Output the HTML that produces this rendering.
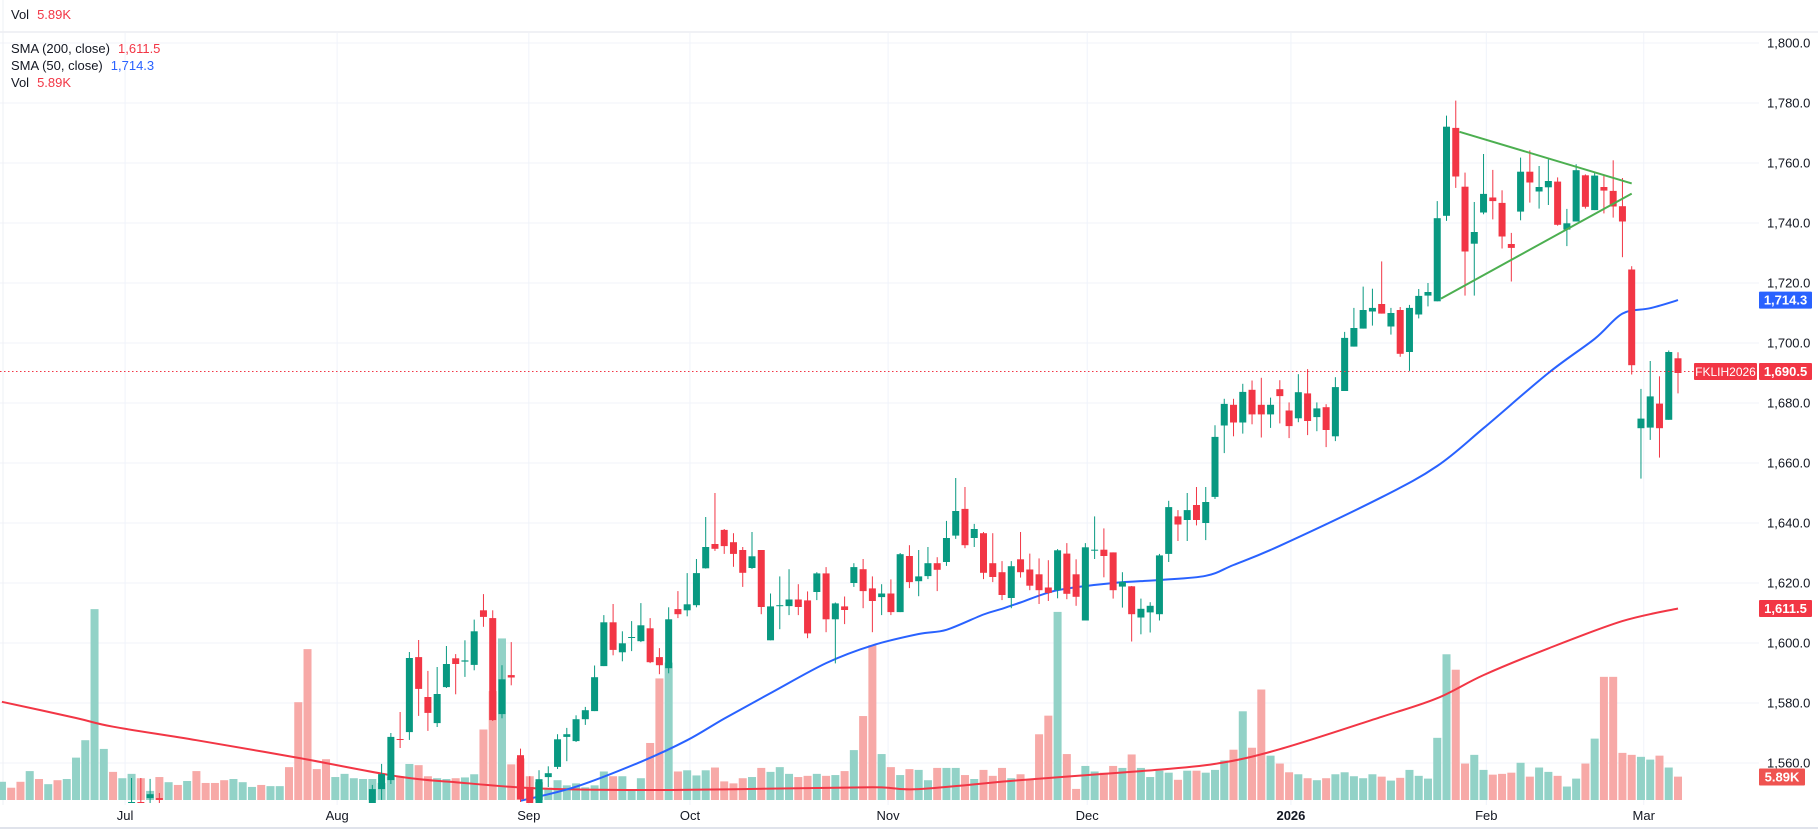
<!DOCTYPE html>
<html><head><meta charset="utf-8"><style>
html,body{margin:0;padding:0;background:#fff;}
svg{display:block;font-family:"Liberation Sans",sans-serif;}
</style></head><body>
<svg id="chart" width="1818" height="830" viewBox="0 0 1818 830" xmlns="http://www.w3.org/2000/svg">
<defs><clipPath id="plotClip"><rect x="0" y="33" width="1757" height="770"/></clipPath></defs>
<rect x="0" y="0" width="1818" height="830" fill="#ffffff"/>
<g id="grid"></g>
<line x1="0" y1="32" x2="1818" y2="32" stroke="#e0e3eb" stroke-width="1"/>
<line x1="3" y1="0" x2="3" y2="805" stroke="#eef0f4" stroke-width="1"/>
<line x1="0" y1="828" x2="1818" y2="828" stroke="#e0e3eb" stroke-width="2"/>
<g clip-path="url(#plotClip)">
<g id="volume"></g>
<g id="smas"></g>
<g id="candles"></g>
<g id="trend"></g>
</g>
<g id="lastline"></g>
<g id="yaxis"></g>
<g id="xaxis"></g>
<g id="badges"></g>
<g font-size="13">
<text x="11" y="19" fill="#131722">Vol<tspan dx="8" fill="#f23645">5.89K</tspan></text>
<text x="11" y="53" fill="#131722">SMA (200, close)<tspan dx="8" fill="#f23645">1,611.5</tspan></text>
<text x="11" y="70" fill="#131722">SMA (50, close)<tspan dx="8" fill="#2962ff">1,714.3</tspan></text>
<text x="11" y="87" fill="#131722">Vol<tspan dx="8" fill="#f23645">5.89K</tspan></text>
</g>
</svg>
<script>
const opens=[1538,1541,1539,1537,1542,1539,1541,1538,1541,1540,1538,1540,1542,1539,1545,1547,1548.3,1548.3,1540,1542,1539,1541,1538,1536,1534,1532,1535,1537,1539,1536,1538,1540,1537,1533,1529,1528,1526,1530,1533,1536,
1539,1551.3,1554.3,1568,1570.3,1595.3,1582,1573.3,1585.3,1594.9,1593.8,1592.7,1610.9,1608.3,1576.3,1589.3,1562.6,1552,1545,1555.3,1558.7,1568.7,1567.3,1574.6,1577.3,1592.3,1606.9,1596.9,1601.8,1600.6,1604.9,1595.3,1591.6,1611.3,1610.9,1612.6,1624.9,1633,1637.7,
1633.6,1631,1625,1631,1600.9,1612.4,1612.3,1614.5,1614.2,1617,1623.2,1607.9,1612.2,1620,1624.6,1618.2,1615.3,1616.5,1610.3,1629,1620.6,1622.3,1626.6,1627,1635.8,1644.7,1635,1636.6,1626.6,1623.6,1615,1627.9,
1624.5,1622.9,1618.5,1617.6,1629.8,1622.9,1607.5,1630.8,1631.1,1630.2,1618.8,1618.9,1608.5,1610.2,1609.6,1629.7,1642.2,1641,1646,1640,1648.7,1672.5,1679.4,1673.5,1684.4,1679.4,1676.2,1684.6,
1677.5,1674.9,1683.2,1675.3,1678.6,1668.9,1684,1698.8,1704.8,1710.5,1713,1705.5,1711,1697,1709.5,1715.8,1713.9,1742.4,1771.7,
1752.1,1733.1,1743.5,1748.5,1746.7,1733,1743.8,1757.1,1750.5,1751.9,1753.8,1737.8,1740.5,1755.9,1744.3,1752,1750.7,1745.6,1724.5,1671.6,1671.8,1679.8,1674.4,1694.9];
const highs=[1543,1543,1542,1544,1544,1543,1543,1543,1545,1545,1545,1545,1545,1545,1555,1555,1554.7,1550,1544,1544,1543,1544,1541,1539,1537,1537,1539,1540,1541,1540,1542,1543,1540,1536,1533,1532,1532,1535,1538,1541,
1552.7,1559.7,1570,1577,1597,1601,1590.7,1592,1599,1596.3,1600.9,1607.8,1616.3,1610.9,1592.6,1600.3,1564.8,1555.6,1557.6,1558.9,1569.6,1571.7,1575.9,1578.7,1592.5,1609.3,1613,1603.9,1607.3,1613.3,1608.3,1598.3,1611.9,1617.3,1623.3,1628,1642,1650,1638,
1636.6,1632,1637,1631,1616.5,1622.2,1624.6,1619.6,1617.2,1623.6,1625.3,1613.5,1615.5,1626.6,1628,1622.2,1619.6,1621.2,1630,1632.6,1631,1632,1628.6,1640.7,1655,1652,1639.7,1637,1636.6,1627.3,1627.3,1637,
1629.8,1628.2,1627.6,1631.3,1633.3,1627.9,1633.3,1642.2,1638.2,1630.2,1623.6,1619,1614.8,1613.6,1629.7,1647.4,1644.3,1650,1652,1652,1672.6,1681.4,1681.4,1686.4,1687.5,1688.4,1681.8,1687.6,
1680.2,1689.6,1691.3,1680.2,1679.6,1688.6,1703.7,1711.7,1718.8,1718.1,1727.2,1711.7,1712,1712.7,1718,1720,1747.3,1775.8,1780.8,
1756.8,1747,1763,1757.7,1750.9,1736.7,1761.8,1764.2,1759,1761.2,1755.2,1744.7,1759.6,1756.2,1756.8,1755.8,1760.9,1755,1725.6,1684.7,1694,1688.9,1697.5,1696.9];
const lows=[1535,1536,1535,1535,1537,1537,1536,1536,1539,1537,1530,1536,1537,1537,1538,1538,1540,1540,1536,1537,1536,1535,1533,1531,1530,1530,1533,1535,1535,1534,1536,1535,1530,1525,1525,1524,1524,1528,1531,1534,
1538,1547.7,1553,1565,1567.7,1575.7,1570.7,1572,1585,1582.9,1588.7,1590.9,1605.4,1574,1574.9,1585.9,1547,1540,1540,1552,1558,1560.6,1567,1572.7,1577.3,1592.3,1595.9,1593.9,1597.3,1600.3,1593.3,1589.6,1589.9,1608.3,1608.9,1611.9,1624.8,1630.7,1629.7,
1625.4,1618.7,1624.7,1609.6,1600.9,1604.6,1609.3,1609.3,1601.6,1614.3,1603.6,1593.2,1606.3,1618.7,1611.6,1603.6,1609.3,1609.3,1610.3,1618.3,1615.6,1621.3,1617.3,1625.7,1634.7,1631.6,1632,1621.3,1620.3,1614.3,1611.6,1621.8,
1617.6,1613,1614,1614.9,1614.6,1612.4,1607.5,1628,1621.9,1614.8,1611.8,1600.5,1602.9,1603.5,1607.5,1627,1634,1634,1639.2,1634.3,1648,1663.3,1668.9,1669.8,1672.9,1668.5,1671.7,1673.2,
1668.3,1673.6,1669.3,1670.6,1665.3,1667.3,1684,1698.8,1704.8,1705.8,1709.8,1702.8,1695.4,1690.7,1708.2,1712.2,1713.9,1740.7,1751.7,
1715.8,1715.8,1742.9,1741.2,1731.5,1720.5,1740.9,1746.8,1744.8,1746,1739.1,1732.3,1740.5,1744.8,1744.3,1743.2,1741.8,1728.6,1689.5,1654.8,1667.7,1661.8,1674.4,1683.2];
const closes=[1541,1538,1537,1542,1539,1541,1538,1541,1543,1544,1543,1542,1539,1543,1547,1545,1549.6,1547.7,1542,1539,1541,1537,1535,1533,1532,1535,1537,1539,1536,1538,1540,1537,1532,1528,1527,1526,1530,1533,1536,1539,
1551.3,1556.3,1568.7,1567.7,1595,1584.7,1576.7,1583,1593,1593,1594.2,1603.9,1608.7,1574.3,1587.9,1588.5,1547.9,1545,1554.6,1556.6,1567.9,1569.6,1574.6,1577.6,1588.6,1606.9,1597.7,1599.9,1602,1605.9,1593.6,1592.6,1607.9,1609.6,1612.9,1623.3,1632,1631.4,1632.3,
1629.7,1623.4,1628.9,1612,1612.2,1612.6,1614.5,1612,1603.2,1623.2,1607.9,1613.2,1611,1625.3,1617.3,1614,1616.5,1610.3,1629.6,1620.3,1622.2,1626.6,1624.4,1635,1644,1632.6,1638,1623.4,1622,1616,1625.6,1623.6,
1619.1,1617.6,1616.7,1630.9,1616.4,1615.4,1631.9,1631.1,1629,1617.6,1620.4,1609.6,1611.4,1612.4,1629.2,1645.3,1639.5,1644.3,1641,1647,1668.7,1679.7,1673.5,1683.7,1676.2,1676.2,1679.4,1682.3,
1672.3,1683.6,1674,1678.2,1671,1685.3,1701.7,1705,1711,1711.7,1709.8,1710,1696.4,1711.7,1715.7,1717,1741.6,1772.1,1755.5,
1730.5,1737,1749.7,1747.3,1735.5,1731.7,1757.1,1753.5,1752,1754,1739.4,1739.9,1757.6,1745.4,1755.8,1750.8,1745.5,1740.5,1692.6,1674.8,1682.2,1671.6,1697,1690];
const volumes=[4.6,3.1,4.6,7.3,5.3,4.0,5.0,5.3,10.7,15.1,48.2,12.9,7.1,5.5,6.6,5.5,2.3,5.8,4.5,3.8,4.8,7.3,4.3,4.3,5.0,5.3,4.5,3.3,3.8,3.5,3.5,8.3,24.7,38.1,7.8,10.3,5.8,6.6,5.5,5.3,5.3,4.3,5.9,6.0,9.1,8.8,6.0,5.5,5.3,5.5,
5.7,6.5,17.8,27.5,40.8,9.0,10.5,6.0,4.5,3.1,5.0,3.7,4.2,3.2,3.7,7.2,6.0,6.0,2.4,5.5,14.4,30.7,34.7,7.2,7.5,6.2,7.5,8.2,4.7,4.2,
5.5,5.8,8.1,7.1,8.3,6.6,5.8,6.1,6.6,6.1,6.3,7.3,12.6,21.2,39.1,11.6,8.3,6.3,7.8,7.6,5.0,8.1,8.1,8.1,6.3,5.3,7.6,6.1,8.1,5.5,6.5,
5.1,16.6,21.3,47.5,11.6,2.8,8.6,7.2,6.9,8.6,8.1,11.5,8.1,5.8,7.4,6.9,5.1,7.4,7.4,6.9,7.6,10.0,12.7,22.4,13.2,27.9,11.2,9.2,
7,6.5,5.5,5,5.5,6.5,7,6,5.5,6.5,
5.9,4.9,5.6,7.6,6.1,5.4,15.7,36.8,32.9,9.2,11.4,7.6,6.4,6.6,6.9,9.4,5.9,8.2,7.1,6.1,3.4,5.4,9.2,15.5,31.1,31.1,11.9,11.4,10.9,10.2,11.2,8.2,5.9];
const volumeUp=[1,0,0,1,0,1,0,1,1,1,1,1,0,1,1,0,1,0,1,0,1,0,0,0,0,1,1,1,0,1,1,0,0,0,0,0,1,1,1,1,1,1,1,0,1,0,0,1,1,0];
const sma200Idx=[0,8,12,21,32,43,49,58,69,80,94,99,110,123,131,138,149,155,160,167,175,181];
const sma200Val=[1580.4,1575,1572.1,1567.6,1561.7,1555.4,1553.6,1551.5,1551,1551.3,1551.9,1551.3,1554.3,1557.3,1559.7,1564.6,1575.4,1581.6,1589.3,1598.2,1607.3,1611.5];
const sma50Idx=[56,62,69,74,78,83,89,94,99,102,106,108,110,114,120,125,130,133,138,149,155,160,167,172,175,178,181];
const sma50Val=[1547.4,1552.1,1560.4,1567.6,1574.8,1583.3,1593.3,1599.2,1603,1604.4,1609.5,1611.4,1613.5,1617.6,1620,1621,1622.4,1626,1632.4,1648.6,1659,1671.6,1690,1701.4,1709.8,1711.6,1714.3];
const trendUpper=[[157.4,1770.4],[176,1753.2]];
const trendLower=[[155.4,1714.8],[176,1749.8]];
const priceTicks=[1560,1580,1600,1620,1640,1660,1680,1700,1720,1740,1760,1780,1800];
const monthLabels=["Jul","Aug","Sep","Oct","Nov","Dec","2026","Feb","Mar"];
const monthIdx=[13.3,36.2,56.9,74.3,95.7,117.2,139.2,160.3,177.3];
const lastPrice=1690.5, sma200Last=1611.5, sma50Last=1714.3;

const NS="http://www.w3.org/2000/svg";
const N=closes.length, STEP=9.26, XLAST=1678;
function xs(i){return XLAST-(N-1-i)*STEP;}
function ys(p){return 763-(p-1560)*3;}
function vh(v){return v*3.96;}
function mk(tag,attrs,parent){const e=document.createElementNS(NS,tag);for(const k in attrs)e.setAttribute(k,attrs[k]);parent.appendChild(e);return e;}
const grid=document.getElementById('grid');
priceTicks.forEach(p=>{const l=mk('line',{x1:0,x2:1759,y1:ys(p),y2:ys(p),stroke:'#f0f3fa','stroke-width':1},grid);

});
monthIdx.forEach(m=>{const l=mk('line',{x1:xs(m),x2:xs(m),y1:33,y2:805,stroke:'#f0f3fa','stroke-width':1},grid);

});
const vg=document.getElementById('volume');
for(let i=0;i<N;i++){
 const up=i<volumeUp.length?volumeUp[i]===1:closes[i]>=opens[i];
 const h=vh(volumes[i]);
 const r=mk('rect',{x:xs(i)-4,y:800-h,width:8,height:h,fill:up?'#92d2c7':'#f7a9a7'},vg);
 
 
}
const sg=document.getElementById('smas');
function line(idx,val,color,name){
 const pts=idx.map((k,j)=>[xs(k),ys(val[j])]);
 let d='M'+pts[0][0].toFixed(1)+' '+pts[0][1].toFixed(1);
 for(let j=0;j<pts.length-1;j++){
  const p0=pts[Math.max(0,j-1)],p1=pts[j],p2=pts[j+1],p3=pts[Math.min(pts.length-1,j+2)];
  const c1x=p1[0]+(p2[0]-p0[0])/6,c1y=p1[1]+(p2[1]-p0[1])/6,c2x=p2[0]-(p3[0]-p1[0])/6,c2y=p2[1]-(p3[1]-p1[1])/6;
  d+='C'+c1x.toFixed(1)+' '+c1y.toFixed(1)+' '+c2x.toFixed(1)+' '+c2y.toFixed(1)+' '+p2[0].toFixed(1)+' '+p2[1].toFixed(1);
 }
 const p=mk('path',{d:d,fill:'none',stroke:color,'stroke-width':2,'stroke-linejoin':'round'},sg);
 
 }
line(sma200Idx,sma200Val,'#f23645','sma-200-line');
line(sma50Idx,sma50Val,'#2962ff','sma-50-line');
const cg=document.getElementById('candles');
for(let i=0;i<N;i++){
 const up=closes[i]>=opens[i];const col=up?'#089981':'#f23645';const x=xs(i);
 const w=mk('line',{x1:x,x2:x,y1:ys(highs[i]),y2:ys(lows[i]),stroke:col,'stroke-width':1},cg);
 
 
 const top=ys(Math.max(opens[i],closes[i]));const bh=Math.max(1,Math.abs(ys(opens[i])-ys(closes[i])));
 const b=mk('rect',{x:x-3.5,y:top,width:7,height:bh,fill:col},cg);
 
 
}
const tg=document.getElementById('trend');
[trendUpper,trendLower].forEach((t,j)=>{const l=mk('line',{x1:xs(t[0][0]),y1:ys(t[0][1]),x2:xs(t[1][0]),y2:ys(t[1][1]),stroke:'#4caf50','stroke-width':2},tg);
 
 });
const lg=document.getElementById('lastline');
const ll=mk('line',{x1:0,x2:1694,y1:ys(lastPrice),y2:ys(lastPrice),stroke:'#f23645','stroke-width':1,'stroke-dasharray':'1.5 2.5'},lg);


const ya=document.getElementById('yaxis');
priceTicks.forEach(p=>{const t=mk('text',{x:1767,y:ys(p)+4.5,'font-size':13,fill:'#131722'},ya);t.textContent=p.toLocaleString('en-US',{minimumFractionDigits:1});
 
 });
const xa=document.getElementById('xaxis');
monthLabels.forEach((m,j)=>{const t=mk('text',{x:xs(monthIdx[j]),y:820,'font-size':13,fill:'#131722','text-anchor':'middle','font-weight':m==='2026'?'bold':'normal'},xa);t.textContent=m;
 
 });
const bg=document.getElementById('badges');
function badge(x,w,yc,color,text,name,fs,fw){const r=mk('rect',{x:x,y:yc-8.5,width:w,height:17,fill:color,rx:1},bg);
 
 
 const t=mk('text',{x:x+w/2,y:yc+4.5,'font-size':fs,fill:'#fff','text-anchor':'middle','font-weight':fw},bg);t.textContent=text;
 
 }
badge(1759,53,ys(sma50Last),'#2962ff','1,714.3','sma50-price-badge',13,'bold');
badge(1694,63,ys(lastPrice),'#f23645','FKLIH2026','symbol-badge',12,'normal');
badge(1759,53,ys(lastPrice),'#f23645','1,690.5','last-price-badge',13,'bold');
badge(1759,53,ys(sma200Last),'#f23645','1,611.5','sma200-price-badge',13,'bold');
badge(1759,46,777,'#ef5350','5.89K','volume-badge',13,'bold');
</script>
</body></html>
